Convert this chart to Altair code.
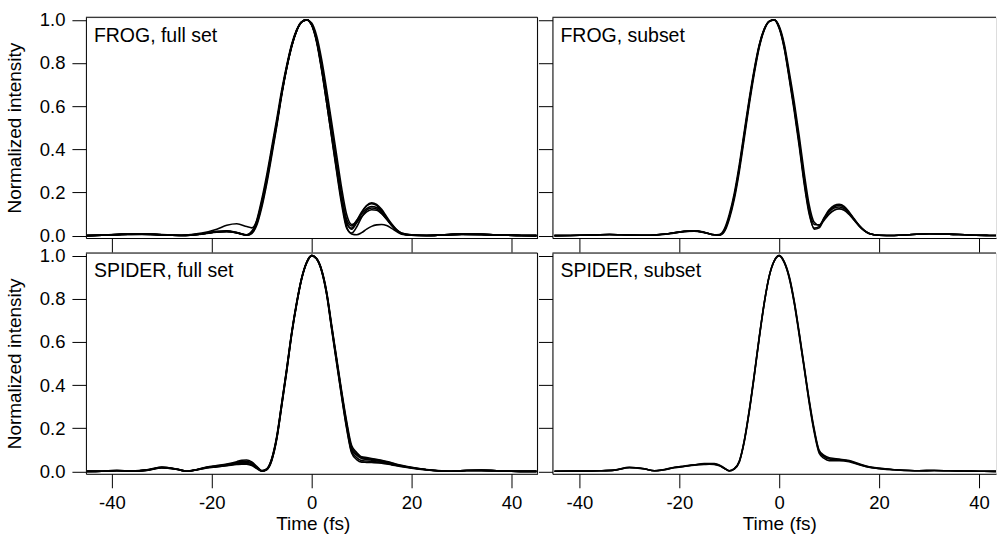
import altair as alt
import pandas as pd

FONT = "Liberation Sans"

# ---------------- data ----------------
T_FROG = [-45, -42, -38, -34, -30, -26, -22, -19, -17, -15,
          -13, -12, -11, -10, -9, -8, -7, -6, -5, -4,
          -3, -2, -1, 0, 1, 2, 3, 4, 5, 6,
          7, 8, 9, 10, 11, 12, 13, 14, 15, 16,
          17, 18, 20, 23, 26, 30, 34, 38, 42, 45]

FROG_FULL_1 = [0.000, 0.002, 0.006, 0.008, 0.004, 0.001, 0.008, 0.018, 0.020, 0.014,
               0.003, 0.015, 0.060, 0.150, 0.260, 0.390, 0.520, 0.660, 0.780, 0.880,
               0.950, 0.990, 1.000, 0.980, 0.910, 0.790, 0.645, 0.495, 0.340, 0.190,
               0.075, 0.045, 0.070, 0.100, 0.125, 0.135, 0.130, 0.110, 0.080, 0.050,
               0.025, 0.010, 0.003, 0.001, 0.003, 0.007, 0.006, 0.003, 0.001, 0.000]
FROG_FULL_2 = [0.000, 0.002, 0.005, 0.007, 0.004, 0.001, 0.007, 0.016, 0.019, 0.012,
               0.002, 0.010, 0.048, 0.130, 0.240, 0.370, 0.505, 0.650, 0.775, 0.875,
               0.950, 0.990, 1.000, 0.975, 0.895, 0.765, 0.615, 0.460, 0.305, 0.160,
               0.055, 0.035, 0.070, 0.110, 0.138, 0.148, 0.140, 0.115, 0.082, 0.050,
               0.024, 0.009, 0.002, 0.001, 0.003, 0.006, 0.006, 0.003, 0.001, 0.000]
FROG_FULL_3 = [0.000, 0.003, 0.007, 0.009, 0.005, 0.002, 0.009, 0.020, 0.022, 0.015,
               0.004, 0.020, 0.072, 0.168, 0.282, 0.410, 0.540, 0.675, 0.790, 0.888,
               0.955, 0.992, 1.000, 0.985, 0.925, 0.815, 0.675, 0.525, 0.372, 0.220,
               0.098, 0.052, 0.062, 0.088, 0.110, 0.120, 0.118, 0.102, 0.077, 0.050,
               0.027, 0.012, 0.004, 0.001, 0.003, 0.007, 0.006, 0.003, 0.001, 0.000]
FROG_FULL_4 = [0.000, 0.002, 0.006, 0.008, 0.004, 0.001, 0.008, 0.017, 0.019, 0.013,
               0.003, 0.013, 0.055, 0.142, 0.252, 0.382, 0.515, 0.656, 0.778, 0.879,
               0.950, 0.990, 1.000, 0.978, 0.902, 0.778, 0.630, 0.478, 0.322, 0.172,
               0.062, 0.030, 0.060, 0.105, 0.140, 0.152, 0.145, 0.122, 0.088, 0.055,
               0.028, 0.011, 0.003, 0.001, 0.003, 0.007, 0.006, 0.003, 0.001, 0.000]
FROG_FULL_5 = [0.000, 0.002, 0.006, 0.008, 0.004, 0.001, 0.008, 0.018, 0.020, 0.014,
               0.003, 0.016, 0.062, 0.152, 0.262, 0.392, 0.522, 0.660, 0.780, 0.880,
               0.950, 0.990, 1.000, 0.976, 0.900, 0.770, 0.615, 0.455, 0.295, 0.145,
               0.035, 0.012, 0.040, 0.085, 0.118, 0.128, 0.124, 0.104, 0.076, 0.047,
               0.023, 0.009, 0.002, 0.001, 0.003, 0.007, 0.006, 0.003, 0.001, 0.000]
FROG_FULL_6 = [0.000, 0.002, 0.005, 0.006, 0.003, 0.002, 0.012, 0.030, 0.048, 0.055,
               0.042, 0.036, 0.068, 0.155, 0.265, 0.395, 0.525, 0.662, 0.782, 0.881,
               0.951, 0.990, 1.000, 0.978, 0.905, 0.780, 0.630, 0.475, 0.318, 0.168,
               0.040, 0.008, 0.004, 0.014, 0.030, 0.043, 0.050, 0.052, 0.047, 0.034,
               0.019, 0.007, 0.002, 0.001, 0.003, 0.006, 0.005, 0.003, 0.001, 0.000]

FROG_SUB_1 = [0.000, 0.001, 0.003, 0.005, 0.003, 0.002, 0.010, 0.020, 0.022, 0.015,
              0.004, 0.003, 0.022, 0.085, 0.180, 0.310, 0.465, 0.620, 0.760, 0.878,
              0.955, 0.993, 1.000, 0.965, 0.878, 0.742, 0.598, 0.437, 0.261, 0.118,
              0.052, 0.050, 0.080, 0.110, 0.128, 0.133, 0.125, 0.103, 0.074, 0.046,
              0.024, 0.010, 0.002, 0.001, 0.004, 0.009, 0.007, 0.003, 0.001, 0.000]
FROG_SUB_2 = [0.000, 0.001, 0.003, 0.005, 0.003, 0.002, 0.010, 0.019, 0.021, 0.014,
              0.004, 0.005, 0.030, 0.098, 0.196, 0.328, 0.482, 0.635, 0.772, 0.885,
              0.958, 0.994, 1.000, 0.970, 0.890, 0.760, 0.620, 0.462, 0.290, 0.142,
              0.062, 0.048, 0.072, 0.100, 0.118, 0.124, 0.118, 0.098, 0.071, 0.044,
              0.023, 0.010, 0.002, 0.001, 0.004, 0.009, 0.007, 0.003, 0.001, 0.000]
FROG_SUB_3 = [0.000, 0.001, 0.003, 0.005, 0.003, 0.002, 0.009, 0.020, 0.023, 0.016,
              0.004, 0.002, 0.018, 0.076, 0.168, 0.296, 0.450, 0.607, 0.750, 0.872,
              0.952, 0.992, 1.000, 0.960, 0.868, 0.728, 0.578, 0.415, 0.240, 0.100,
              0.035, 0.042, 0.084, 0.120, 0.140, 0.145, 0.136, 0.110, 0.078, 0.048,
              0.025, 0.010, 0.002, 0.001, 0.004, 0.009, 0.007, 0.003, 0.001, 0.000]
FROG_SUB_4 = [0.000, 0.001, 0.003, 0.005, 0.003, 0.002, 0.010, 0.020, 0.022, 0.015,
              0.004, 0.003, 0.024, 0.088, 0.184, 0.314, 0.470, 0.624, 0.764, 0.880,
              0.956, 0.993, 1.000, 0.963, 0.874, 0.736, 0.590, 0.428, 0.252, 0.110,
              0.030, 0.036, 0.078, 0.116, 0.134, 0.140, 0.131, 0.106, 0.076, 0.047,
              0.024, 0.010, 0.002, 0.001, 0.004, 0.009, 0.007, 0.003, 0.001, 0.000]

T_SPIDER = [-45, -42, -39, -36, -33, -30, -27, -25, -23, -21,
            -19, -17, -15, -14, -13, -12, -11, -10, -9, -8,
            -7, -6, -5, -4, -3, -2, -1, 0, 1, 2,
            3, 4, 5, 6, 7, 8, 9, 10, 11, 12,
            14, 16, 18, 20, 23, 26, 28, 31, 34, 37,
            40, 43, 45]

SPIDER_FULL_1 = [0.000, 0.001, 0.004, 0.002, 0.006, 0.018, 0.010, 0.001, 0.008, 0.018,
                 0.024, 0.030, 0.038, 0.042, 0.042, 0.035, 0.018, 0.002, 0.010, 0.055,
                 0.155, 0.310, 0.470, 0.640, 0.780, 0.895, 0.968, 1.000, 0.985, 0.930,
                 0.825, 0.668, 0.513, 0.358, 0.215, 0.102, 0.075, 0.060, 0.056, 0.052,
                 0.046, 0.035, 0.025, 0.017, 0.008, 0.002, 0.001, 0.004, 0.005, 0.003,
                 0.001, 0.000, 0.000]
SPIDER_FULL_2 = [0.000, 0.001, 0.004, 0.002, 0.007, 0.020, 0.011, 0.001, 0.009, 0.020,
                 0.027, 0.034, 0.045, 0.052, 0.053, 0.044, 0.024, 0.004, 0.012, 0.060,
                 0.162, 0.318, 0.478, 0.646, 0.785, 0.898, 0.970, 1.000, 0.986, 0.934,
                 0.832, 0.678, 0.525, 0.372, 0.232, 0.120, 0.088, 0.068, 0.064, 0.060,
                 0.052, 0.040, 0.028, 0.019, 0.009, 0.003, 0.001, 0.004, 0.005, 0.003,
                 0.001, 0.000, 0.000]
SPIDER_FULL_3 = [0.000, 0.001, 0.003, 0.002, 0.005, 0.016, 0.009, 0.001, 0.007, 0.016,
                 0.021, 0.026, 0.032, 0.034, 0.033, 0.027, 0.013, 0.001, 0.008, 0.050,
                 0.148, 0.302, 0.462, 0.634, 0.775, 0.892, 0.966, 1.000, 0.984, 0.926,
                 0.818, 0.658, 0.500, 0.344, 0.198, 0.085, 0.055, 0.043, 0.042, 0.041,
                 0.038, 0.030, 0.022, 0.015, 0.007, 0.002, 0.001, 0.004, 0.005, 0.003,
                 0.001, 0.000, 0.000]
SPIDER_FULL_4 = [0.000, 0.001, 0.004, 0.002, 0.006, 0.019, 0.010, 0.001, 0.008, 0.019,
                 0.025, 0.032, 0.041, 0.047, 0.047, 0.039, 0.021, 0.003, 0.011, 0.058,
                 0.158, 0.314, 0.474, 0.643, 0.782, 0.896, 0.969, 1.000, 0.985, 0.932,
                 0.828, 0.672, 0.518, 0.364, 0.222, 0.110, 0.080, 0.064, 0.060, 0.056,
                 0.049, 0.037, 0.026, 0.018, 0.008, 0.002, 0.001, 0.004, 0.005, 0.003,
                 0.001, 0.000, 0.000]
SPIDER_FULL_5 = [0.000, 0.001, 0.003, 0.002, 0.006, 0.017, 0.010, 0.001, 0.008, 0.017,
                 0.022, 0.028, 0.035, 0.038, 0.037, 0.031, 0.015, 0.002, 0.009, 0.052,
                 0.152, 0.306, 0.466, 0.637, 0.778, 0.893, 0.967, 1.000, 0.984, 0.928,
                 0.821, 0.663, 0.507, 0.350, 0.205, 0.092, 0.064, 0.050, 0.048, 0.046,
                 0.042, 0.032, 0.024, 0.016, 0.008, 0.002, 0.001, 0.004, 0.005, 0.003,
                 0.001, 0.000, 0.000]

SPIDER_SUB_1 = [0.001, 0.002, 0.002, 0.003, 0.006, 0.018, 0.012, 0.003, 0.008, 0.018,
                0.024, 0.030, 0.034, 0.035, 0.034, 0.028, 0.015, 0.003, 0.012, 0.045,
                0.140, 0.280, 0.445, 0.620, 0.780, 0.905, 0.975, 1.000, 0.970, 0.900,
                0.785, 0.638, 0.482, 0.325, 0.190, 0.092, 0.068, 0.058, 0.056, 0.054,
                0.048, 0.033, 0.020, 0.014, 0.008, 0.004, 0.003, 0.004, 0.003, 0.002,
                0.001, 0.000, 0.000]
SPIDER_SUB_2 = [0.001, 0.002, 0.002, 0.003, 0.006, 0.017, 0.011, 0.003, 0.008, 0.017,
                0.023, 0.029, 0.032, 0.033, 0.032, 0.026, 0.014, 0.002, 0.011, 0.043,
                0.137, 0.276, 0.441, 0.617, 0.778, 0.904, 0.975, 1.000, 0.968, 0.896,
                0.780, 0.632, 0.476, 0.318, 0.182, 0.085, 0.060, 0.050, 0.050, 0.050,
                0.045, 0.031, 0.019, 0.013, 0.008, 0.004, 0.003, 0.004, 0.003, 0.002,
                0.001, 0.000, 0.000]
SPIDER_SUB_3 = [0.001, 0.002, 0.002, 0.003, 0.006, 0.019, 0.012, 0.003, 0.009, 0.019,
                0.025, 0.031, 0.036, 0.037, 0.036, 0.030, 0.016, 0.003, 0.013, 0.047,
                0.143, 0.284, 0.449, 0.623, 0.782, 0.906, 0.976, 1.000, 0.972, 0.904,
                0.790, 0.644, 0.488, 0.332, 0.197, 0.098, 0.074, 0.063, 0.060, 0.057,
                0.050, 0.035, 0.021, 0.015, 0.008, 0.004, 0.003, 0.004, 0.003, 0.002,
                0.001, 0.000, 0.000]

PANEL_LABELS = {
    "frog_full": "FROG, full set",
    "frog_sub": "FROG, subset",
    "spider_full": "SPIDER, full set",
    "spider_sub": "SPIDER, subset",
}
X_TICKS = [-40, -20, 0, 20, 40]
Y_TICKS = [0.0, 0.2, 0.4, 0.6, 0.8, 1.0]

# ---------------- build long table ----------------
SERIES = [
    ("frog_full", T_FROG, [FROG_FULL_1, FROG_FULL_2, FROG_FULL_3, FROG_FULL_4, FROG_FULL_5, FROG_FULL_6]),
    ("frog_sub", T_FROG, [FROG_SUB_1, FROG_SUB_2, FROG_SUB_3, FROG_SUB_4]),
    ("spider_full", T_SPIDER, [SPIDER_FULL_1, SPIDER_FULL_2, SPIDER_FULL_3, SPIDER_FULL_4, SPIDER_FULL_5]),
    ("spider_sub", T_SPIDER, [SPIDER_SUB_1, SPIDER_SUB_2, SPIDER_SUB_3]),
]
rows = []
for panel, ts, traces in SERIES:
    for k, vs in enumerate(traces):
        assert len(ts) == len(vs), (panel, k, len(vs))
        for t, v in zip(ts, vs):
            rows.append({"panel": panel, "trace": f"{panel}_{k}", "t": t, "v": v})
df = pd.DataFrame(rows)

H = 221
Y_DOMAIN = [-0.011, 1.012]


def make_panel(key, width, x_domain, bottom, left):
    d = df[df["panel"] == key]
    x_axis = alt.Axis(
        values=X_TICKS, tickSize=14, tickColor="black", tickWidth=1,
        domain=True, domainColor="black", domainWidth=1, grid=False,
        labels=bottom, labelExpr="'' + datum.value", labelFont=FONT,
        labelFontSize=18.5, labelColor="black", labelPadding=6,
        titleFont=FONT, titleFontSize=19, titleFontWeight="normal",
        titleColor="black", titlePadding=2, titleX=227,
    )
    y_axis = alt.Axis(
        values=Y_TICKS, format=".1f", tickSize=14, tickColor="black", tickWidth=1,
        domain=True, domainColor="black", domainWidth=1, grid=False,
        labels=left, labelFont=FONT, labelFontSize=18.5, labelColor="black",
        labelPadding=7, titleFont=FONT, titleFontSize=19,
        titleFontWeight="normal", titleColor="black", titlePadding=15,
    )
    x_enc = alt.X("t:Q", scale=alt.Scale(domain=x_domain, nice=False, zero=False),
                  axis=x_axis, title="Time (fs)" if bottom else None)
    y_enc = alt.Y("v:Q", scale=alt.Scale(domain=Y_DOMAIN, nice=False, zero=False),
                  axis=y_axis, title="Normalized intensity" if left else None)
    lines = alt.Chart(d).mark_line(
        color="black", strokeWidth=1.6, interpolate="monotone", clip=True
    ).encode(x=x_enc, y=y_enc, detail="trace:N")

    label = alt.Chart(pd.DataFrame({"label": [PANEL_LABELS[key]]})).mark_text(
        align="left", baseline="alphabetic", font=FONT, fontSize=19.5, color="black"
    ).encode(text="label:N", x=alt.value(8), y=alt.value(24.5))

    one = pd.DataFrame({"a": [0]})
    top_rule = alt.Chart(one).mark_rule(color="black", strokeWidth=1).encode(
        x=alt.value(0), x2=alt.value(width), y=alt.value(0))
    layers = [lines, label, top_rule]
    if left:
        right_rule = alt.Chart(one).mark_rule(color="black", strokeWidth=1).encode(
            x=alt.value(width), y=alt.value(0), y2=alt.value(H))
        layers.append(right_rule)
    return alt.layer(*layers).properties(width=width, height=H)


LEFT_W = 452
RIGHT_W = 444
tl = make_panel("frog_full", LEFT_W, [-45.2, 45.2], bottom=False, left=True)
tr = make_panel("frog_sub", RIGHT_W, [-45.4, 43.4], bottom=False, left=False)
bl = make_panel("spider_full", LEFT_W, [-45.2, 45.2], bottom=True, left=True)
br = make_panel("spider_sub", RIGHT_W, [-45.4, 43.4], bottom=True, left=False)

chart = alt.concat(
    tl, tr, bl, br, columns=2, spacing=15, bounds="flush", align="each"
).properties(
    padding={"left": 4, "top": 10, "right": 0, "bottom": 0}
).configure_view(stroke="transparent").configure(background="white")

chart.save("out.html", embed_options={"renderer": "svg", "actions": False})
